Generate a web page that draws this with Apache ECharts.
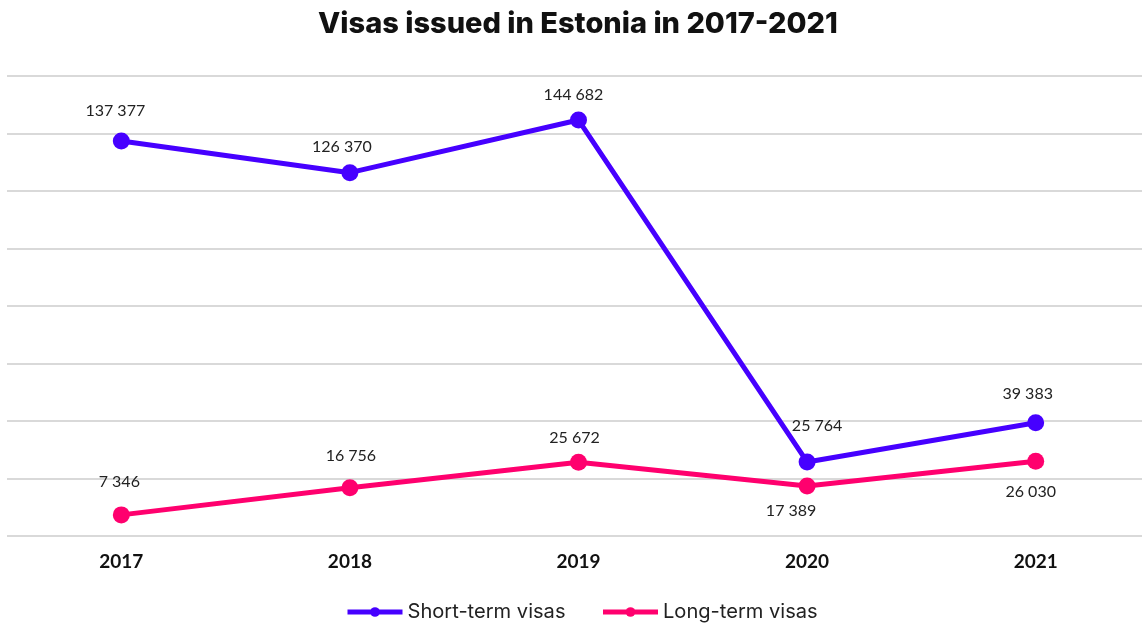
<!DOCTYPE html>
<html><head><meta charset="utf-8">
<script src="https://cdn.jsdelivr.net/npm/echarts@6/dist/echarts.min.js"></script>
<style>html,body{margin:0;padding:0;background:#fff}#c{width:1142px;height:624px}</style>
</head><body><div id="c"></div>
<script>
const years = ['2017','2018','2019','2020','2021'];
const shortTerm = [137377, 126370, 144682, 25764, 39383];
const longTerm = [7346, 16756, 25672, 17389, 26030];
const yTicks = [0, 20000, 40000, 60000, 80000, 100000, 120000, 140000, 160000];

// label placement style (not data): [position, distance, horizontal shift]
const shortLabelStyle = [['top',14,-6],['top',9,-8],['top',9,-5],['top',20,10],['top',12,-8]];
const longLabelStyle  = [['top',17,-2],['top',15,1],['top',8,-4],['bottom',8,-16],['bottom',14,-5]];

const fmt = v => String(v).replace(/\B(?=(\d{3})+(?!\d))/g, ' ');
const FONT = 'Lato';
const chart = echarts.init(document.getElementById('c'), null, {renderer:'canvas'});
const lbl = {show:true, formatter: p => fmt(p.value), fontFamily: FONT, fontSize: 16, color:'#222'};
const withLabels = (vals, st) => vals.map((v,i)=>({value:v,
  label:{position:st[i][0], distance:st[i][1], offset:[st[i][2],0]}}));
chart.setOption({
  animation:false,
  title:{text:'Visas issued in Estonia in 2017-2021', left:313, top:5,
    textStyle:{fontFamily:'Inter', fontWeight:'800', fontSize:29, color:'#111'}},
  legend:{bottom:-3, left:340, itemWidth:55, itemHeight:12, itemGap:35,
    lineStyle:{width:5},
    textStyle:{fontFamily:'Inter', fontSize:20.1, color:'#222'}},
  grid:{left:7, width:1143, top:76, bottom:88, outerBoundsMode:'none', containLabel:false},
  xAxis:{type:'category', data:years, boundaryGap:true,
    axisLine:{show:false}, axisTick:{show:false},
    axisLabel:{fontFamily:FONT, fontWeight:'bold', fontSize:19, color:'#111', margin:16}},
  yAxis:{type:'value', min:yTicks[0], max:yTicks[yTicks.length-1], interval:yTicks[1]-yTicks[0],
    axisLabel:{show:false}, axisLine:{show:false}, axisTick:{show:false},
    splitLine:{lineStyle:{color:'#d9d9d9', width:2}}},
  series:[
    {name:'Short-term visas', type:'line', data:withLabels(shortTerm, shortLabelStyle), color:'#4600ff',
     symbol:'circle', symbolSize:17, lineStyle:{width:5}, label:lbl},
    {name:'Long-term visas', type:'line', data:withLabels(longTerm, longLabelStyle), color:'#ff006e',
     symbol:'circle', symbolSize:17, lineStyle:{width:5}, label:lbl}
  ]
});
</script></body></html>
